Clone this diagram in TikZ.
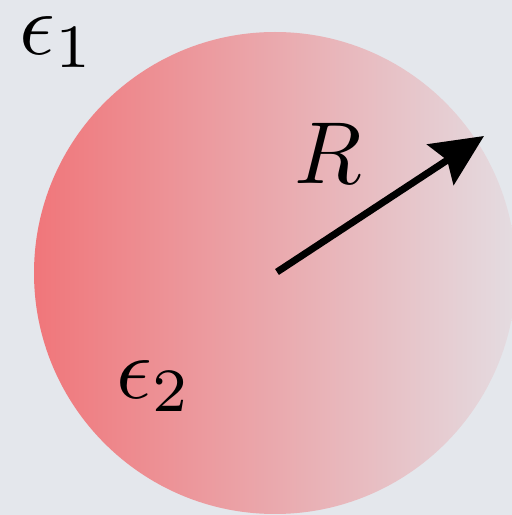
\documentclass[tikz,border=0pt]{standalone}
\usetikzlibrary{arrows.meta}
\definecolor{bgcol}{RGB}{228,231,236}
\definecolor{redL}{RGB}{240,118,122}
\definecolor{redR}{RGB}{228,220,225}
\tikzset{
  lbl/.style={inner sep=0pt, scale=8.8, text=black},
  radius arrow/.style={line width=7pt, -{Stealth[length=52pt,width=48pt,inset=8pt]}}
}
\begin{document}
\begin{tikzpicture}[x=1pt,y=1pt]
  \fill[bgcol] (0,0) rectangle (512,515);
  \useasboundingbox (0,0) rectangle (512,515);
  \coordinate (c) at (275,242);
  \shade[left color=redL, right color=redR] (c) circle (241);
  \coordinate (start) at (277,243);
  \coordinate (tip) at (484,379);
  \draw[radius arrow] (start) -- (tip);
  \node[lbl] (e1) at (57,473) {$\epsilon_1$};
  \node[lbl] (R) at (328,362) {$R$};
  \node[lbl] (e2) at (154,129) {$\epsilon_2$};
\end{tikzpicture}
\end{document}
